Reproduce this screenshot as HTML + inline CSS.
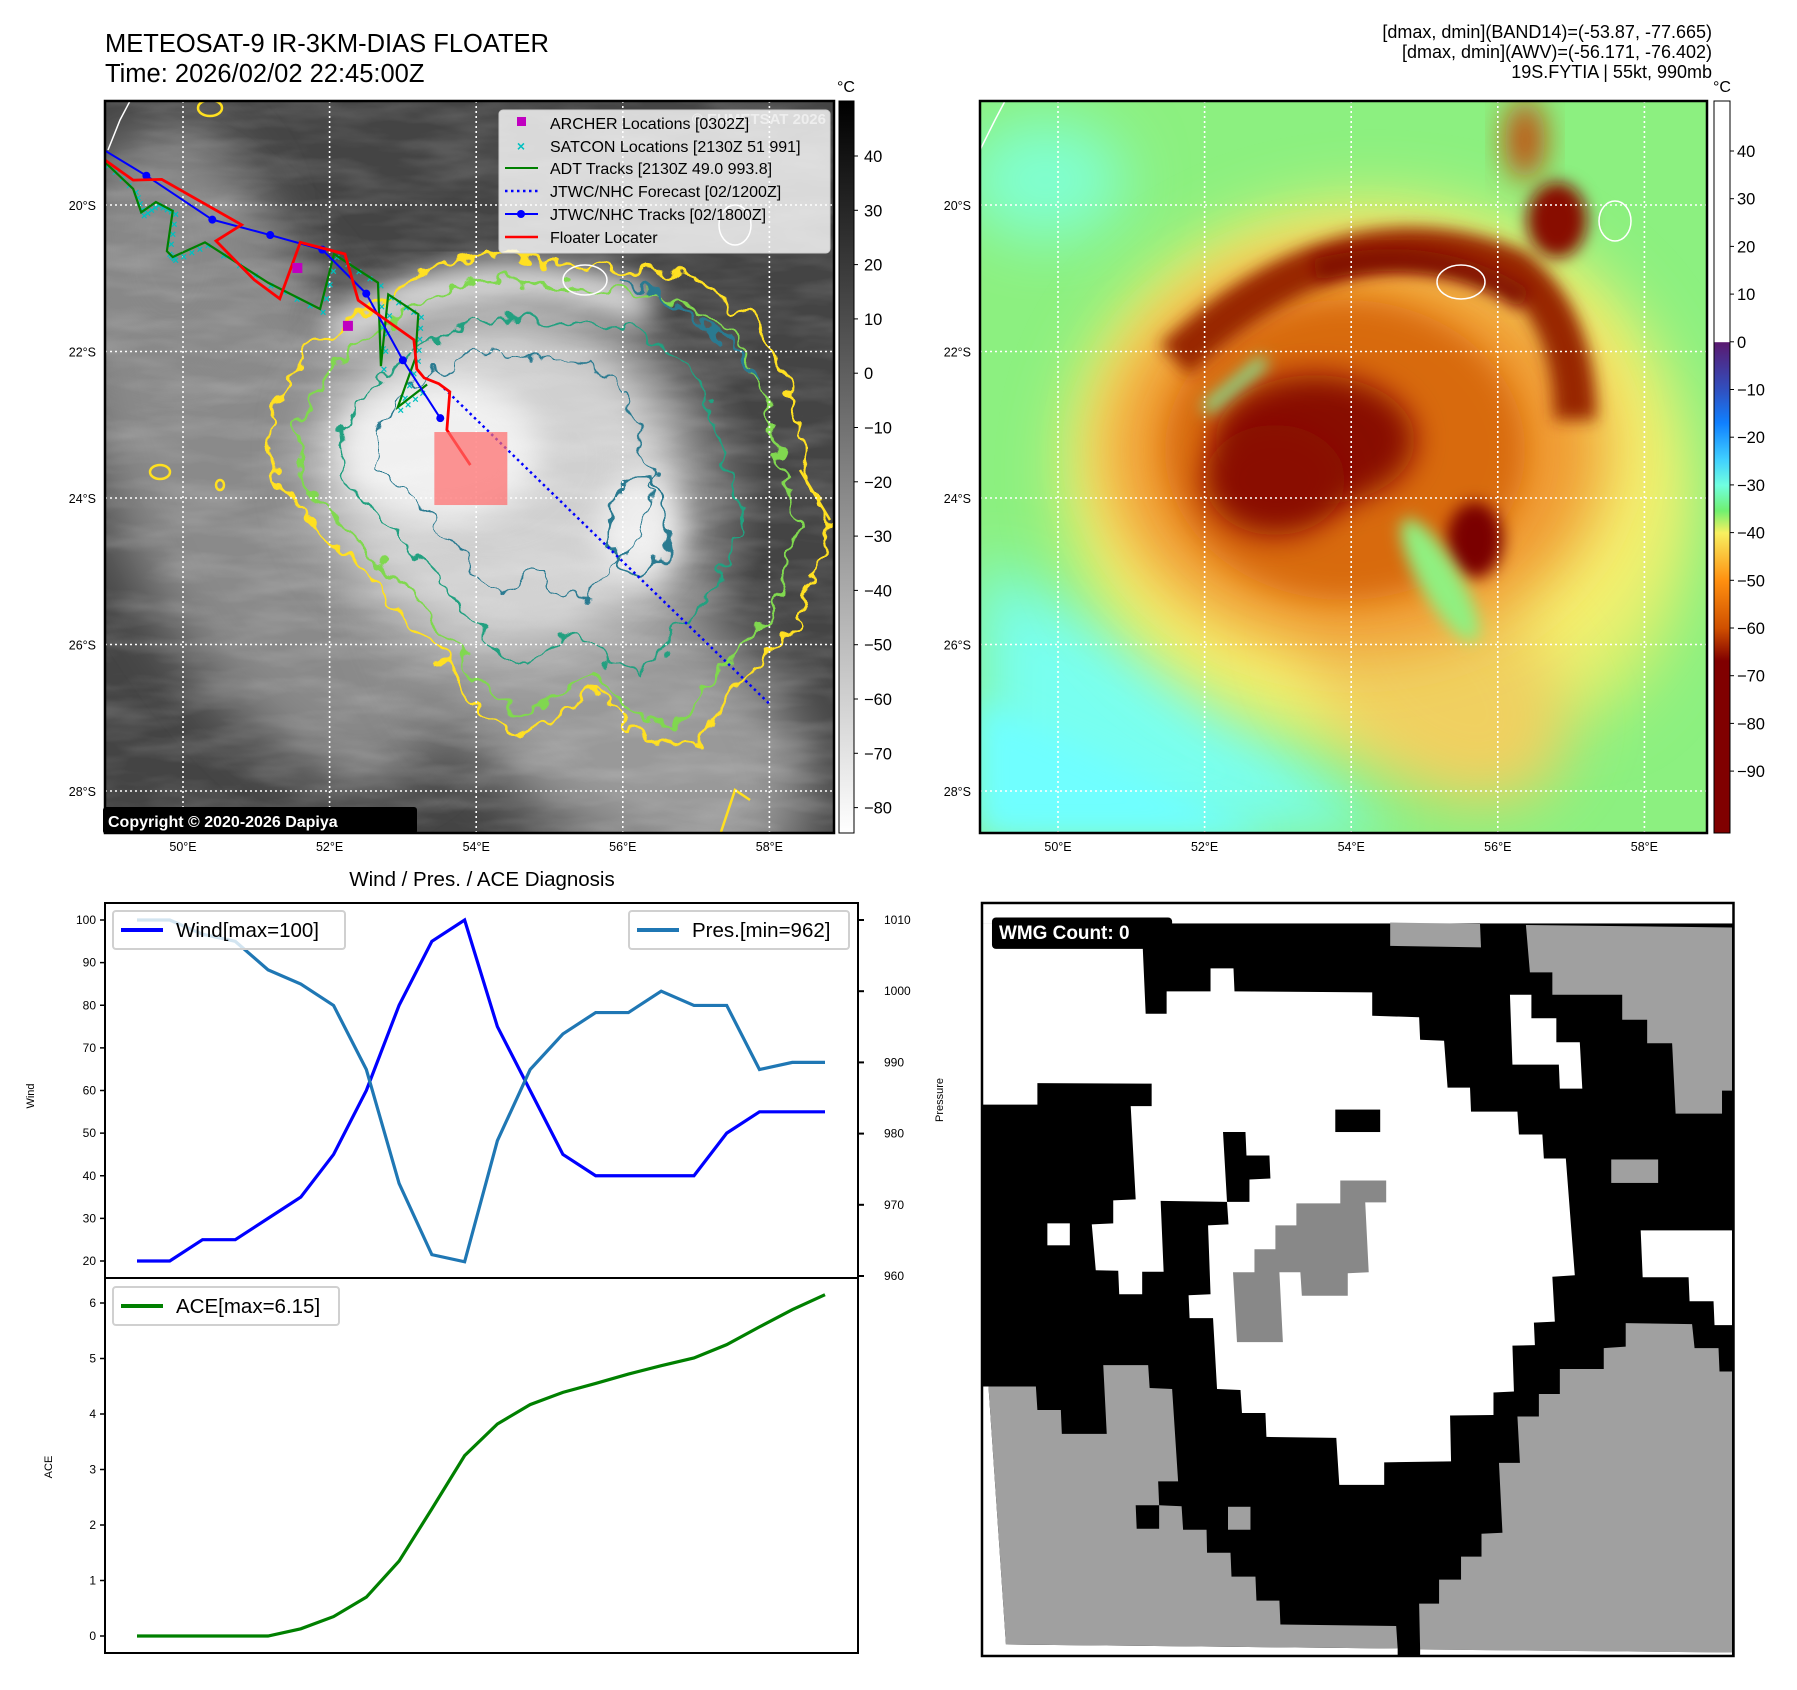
<!DOCTYPE html>
<html><head><meta charset="utf-8"><style>
html,body{margin:0;padding:0;background:#fff;}
svg{display:block;font-family:"Liberation Sans","DejaVu Sans",sans-serif;}
</style></head><body>
<svg id="root" width="1797" height="1690" viewBox="0 0 1797 1690" xmlns="http://www.w3.org/2000/svg">
<defs>
  <clipPath id="clipL" clipPathUnits="userSpaceOnUse"><rect x="105" y="101" width="729" height="732"/></clipPath>
  <clipPath id="clipR" clipPathUnits="userSpaceOnUse"><rect x="980" y="101" width="727" height="732"/></clipPath>
  <filter id="b30" x="-50%" y="-50%" width="200%" height="200%"><feGaussianBlur stdDeviation="30"/></filter>
  <filter id="b15" x="-50%" y="-50%" width="200%" height="200%"><feGaussianBlur stdDeviation="15"/></filter>
  <filter id="b8" x="-50%" y="-50%" width="200%" height="200%"><feGaussianBlur stdDeviation="8"/></filter>
  <filter id="jag" x="-10%" y="-10%" width="120%" height="120%">
    <feTurbulence type="fractalNoise" baseFrequency="0.05" numOctaves="2" seed="3" result="n"/>
    <feDisplacementMap in="SourceGraphic" in2="n" scale="30" xChannelSelector="R" yChannelSelector="G"/>
  </filter>
  <filter id="tex" x="0" y="0" width="100%" height="100%">
    <feTurbulence type="fractalNoise" baseFrequency="0.012 0.05" numOctaves="3" seed="7"/>
    <feColorMatrix type="matrix" values="0 0 0 0 1  0 0 0 0 1  0 0 0 0 1  1.2 0 0 0 -0.45"/>
  </filter>
  <linearGradient id="cbL" x1="0" y1="0" x2="0" y2="1">
    <stop offset="0" stop-color="#000"/><stop offset="1" stop-color="#fff"/>
  </linearGradient>
  <linearGradient id="cbR" x1="0" y1="0" x2="0" y2="1">
    <stop offset="0" stop-color="#fff"/><stop offset="0.329" stop-color="#fff"/>
    <stop offset="0.33" stop-color="#5a1a70"/><stop offset="0.395" stop-color="#3050c0"/>
    <stop offset="0.44" stop-color="#1080ff"/><stop offset="0.49" stop-color="#40d0ff"/>
    <stop offset="0.525" stop-color="#70ffe0"/><stop offset="0.56" stop-color="#70f070"/>
    <stop offset="0.59" stop-color="#f8f060"/><stop offset="0.655" stop-color="#ff9010"/>
    <stop offset="0.72" stop-color="#d05000"/><stop offset="0.765" stop-color="#800000"/>
    <stop offset="1" stop-color="#800000"/>
  </linearGradient>
  <radialGradient id="cloudG" cx="0.5" cy="0.5" r="0.5">
    <stop offset="0" stop-color="#f2f2f2"/><stop offset="0.5" stop-color="#d0d0d0"/><stop offset="1" stop-color="#909090" stop-opacity="0"/>
  </radialGradient>
  <path id="yc" d="M484,253 L560,262 L691,276 L760,323 L790,390 L806,461 L829,530 L795,628 L737,691 L691,749 L645,737 L599,691 L518,737 L484,714 L449,668 L403,610 L334,541 L276,484 L271,415 L311,346 L380,300 L438,265 Z"/>
</defs>

<!-- Titles -->
<text x="105" y="52" font-size="25.5" fill="#000">METEOSAT-9 IR-3KM-DIAS FLOATER</text>
<text x="105" y="82" font-size="25.5" fill="#000">Time: 2026/02/02 22:45:00Z</text>
<g font-size="18" text-anchor="end" fill="#000">
  <text x="1712" y="38">[dmax, dmin](BAND14)=(-53.87, -77.665)</text>
  <text x="1712" y="58">[dmax, dmin](AWV)=(-56.171, -76.402)</text>
  <text x="1712" y="78">19S.FYTIA | 55kt, 990mb</text>
</g>

<!-- LEFT IR MAP -->
<g clip-path="url(#clipL)">
  <rect x="105" y="101" width="729" height="732" fill="#444"/>
  <ellipse cx="260" cy="480" rx="150" ry="330" fill="#8a8a8a" filter="url(#b30)" transform="rotate(-25 260 480)"/>
  <ellipse cx="600" cy="690" rx="250" ry="130" fill="#999" filter="url(#b30)" transform="rotate(40 600 690)"/>
  <ellipse cx="170" cy="250" rx="90" ry="120" fill="#888" filter="url(#b30)"/>
  <ellipse cx="520" cy="500" rx="250" ry="230" fill="url(#cloudG)"/>
  <ellipse cx="490" cy="460" rx="170" ry="150" fill="#d0d0d0" filter="url(#b30)"/>
  <ellipse cx="440" cy="450" rx="100" ry="70" fill="#f0f0f0" filter="url(#b15)"/>
  <ellipse cx="640" cy="530" rx="40" ry="55" fill="#eeeeee" filter="url(#b15)"/>
  <path d="M330,340 Q480,240 650,310" stroke="#dcdcdc" stroke-width="40" fill="none" filter="url(#b15)"/>
  <rect x="105" y="101" width="729" height="732" filter="url(#tex)" opacity="0.25"/>
  <g fill="none" stroke-width="3.2" filter="url(#jag)">
    <use href="#yc" stroke="#ffe020"/>
    <use href="#yc" stroke="#80d850" transform="translate(540 500) scale(0.9) translate(-540 -500)"/>
    <use href="#yc" stroke="#20a080" transform="translate(520 480) scale(0.72) translate(-520 -480)"/>
    <use href="#yc" stroke="#2a7a90" transform="translate(480 450) scale(0.5) translate(-480 -450)"/>
    <ellipse cx="640" cy="525" rx="30" ry="50" stroke="#2a7a90"/>
    <path d="M620,280 Q720,320 760,380" stroke="#2a7a90"/>
  </g>
  <g fill="none" stroke="#ffe020" stroke-width="2.5">
    <ellipse cx="160" cy="472" rx="10" ry="7"/><ellipse cx="220" cy="485" rx="4" ry="5"/>
    <ellipse cx="210" cy="108" rx="12" ry="8"/><path d="M800,470 L830,520"/>
    <path d="M720,835 L735,790 L750,800"/>
  </g>
  <g fill="none" stroke="#fff" stroke-width="1.5">
    <path d="M130,101 L120,120 L108,150"/>
    <ellipse cx="585" cy="280" rx="22" ry="15"/>
    <ellipse cx="735" cy="225" rx="16" ry="20"/>
  </g>
  <g id="gridL"></g>
  <g id="tracks"></g>
</g>
<rect x="105" y="101" width="729" height="732" fill="none" stroke="#000" stroke-width="2.5"/>

<!-- legend -->
<g>
  <rect x="499" y="110" width="331" height="143" rx="4" fill="#fff" fill-opacity="0.8" stroke="#ccc"/>
  <text x="826" y="124" text-anchor="end" font-size="15" font-weight="bold" fill="#eee">© EUMETSAT 2026</text>
  <g font-size="16" fill="#000">
    <rect x="517" y="117" width="9" height="9" fill="#c000c0"/><text x="550" y="129">ARCHER Locations [0302Z]</text>
    <text x="521" y="151" font-size="14" font-weight="bold" fill="#00c0c0" text-anchor="middle">×</text><text x="550" y="152">SATCON Locations [2130Z 51 991]</text>
    <line x1="505" y1="168" x2="538" y2="168" stroke="#008000" stroke-width="2"/><text x="550" y="174">ADT Tracks [2130Z 49.0 993.8]</text>
    <line x1="505" y1="191" x2="538" y2="191" stroke="#0000ff" stroke-width="2.5" stroke-dasharray="2.5,3.5"/><text x="550" y="197">JTWC/NHC Forecast [02/1200Z]</text>
    <line x1="505" y1="214" x2="538" y2="214" stroke="#0000ff" stroke-width="2"/><circle cx="521" cy="214" r="4" fill="#0000ff"/><text x="550" y="220">JTWC/NHC Tracks [02/1800Z]</text>
    <line x1="505" y1="237" x2="538" y2="237" stroke="#ff0000" stroke-width="2.5"/><text x="550" y="243">Floater Locater</text>
  </g>
</g>
<g>
  <rect x="103" y="807" width="314" height="27" rx="3" fill="#000"/>
  <text x="108" y="827" font-size="16" font-weight="bold" fill="#fff">Copyright © 2020-2026 Dapiya</text>
</g>
<g id="axesL" font-size="12.5" fill="#000"></g>

<!-- Left colorbar -->
<g>
  <rect x="839" y="101" width="15" height="732" fill="url(#cbL)" stroke="#000" stroke-width="1"/>
  <text x="846" y="92" font-size="16" text-anchor="middle">°C</text>
  <g id="cbLticks" font-size="16.5"></g>
</g>

<!-- RIGHT IR MAP -->
<g clip-path="url(#clipR)">
  <rect x="980" y="101" width="727" height="732" fill="#8cf080"/>
  <g transform="translate(875 0)">
    <ellipse cx="170" cy="180" rx="80" ry="60" fill="#80ffd0" filter="url(#b30)"/>
    <polygon points="105,560 300,660 520,834 105,834" fill="#78fff0" filter="url(#b30)"/>
    <polygon points="105,700 400,834 105,834" fill="#70ffff" filter="url(#b15)"/>
    <ellipse cx="700" cy="560" rx="110" ry="160" fill="#c8f070" filter="url(#b30)"/>
    <ellipse cx="500" cy="470" rx="310" ry="270" fill="#f4f070" filter="url(#b30)"/>
    <ellipse cx="560" cy="680" rx="150" ry="100" fill="#f0d060" filter="url(#b30)" transform="rotate(40 560 680)"/>
    <ellipse cx="480" cy="450" rx="250" ry="200" fill="#f09a30" filter="url(#b30)"/>
    <ellipse cx="470" cy="450" rx="180" ry="150" fill="#d86a10" filter="url(#b15)"/>
    <path d="M300,360 Q470,200 640,270 Q700,320 700,420" stroke="#982800" stroke-width="42" fill="none" filter="url(#b8)"/>
    <path d="M440,270 Q560,240 650,300" stroke="#800800" stroke-width="22" fill="none" filter="url(#b8)"/>
    <ellipse cx="440" cy="440" rx="100" ry="65" fill="#880800" filter="url(#b15)"/>
    <ellipse cx="400" cy="480" rx="70" ry="55" fill="#8a1000" filter="url(#b15)"/>
    <path d="M390,360 L330,410" stroke="#80f0a0" stroke-width="12" filter="url(#b8)"/>
    <ellipse cx="600" cy="540" rx="28" ry="38" fill="#7a0000" filter="url(#b8)"/>
    <ellipse cx="682" cy="220" rx="30" ry="38" fill="#880800" filter="url(#b8)"/>
    <ellipse cx="650" cy="140" rx="20" ry="40" fill="#c05010" filter="url(#b15)"/>
    <ellipse cx="565" cy="580" rx="20" ry="70" fill="#90f080" filter="url(#b8)" transform="rotate(-30 565 580)"/>
    <g fill="none" stroke="#fff" stroke-width="1.5">
      <path d="M130,101 L120,120 L105,150"/>
      <ellipse cx="586" cy="282" rx="24" ry="17"/>
      <ellipse cx="740" cy="221" rx="16" ry="20"/>
    </g>
  </g>
  <g id="gridR"></g>
</g>
<rect x="980" y="101" width="727" height="732" fill="none" stroke="#000" stroke-width="2.5"/>
<g id="axesR" font-size="12.5" fill="#000"></g>
<g>
  <rect x="1714" y="101" width="16" height="732" fill="url(#cbR)" stroke="#000" stroke-width="1"/>
  <text x="1722" y="92" font-size="16" text-anchor="middle">°C</text>
  <g id="cbRticks" font-size="16.5"></g>
</g>

<!-- DIAGNOSIS CHART -->
<text x="482" y="886" font-size="20.5" text-anchor="middle">Wind / Pres. / ACE Diagnosis</text>
<g id="chart"></g>

<!-- WMG PANEL -->
<g transform="translate(981 900) scale(0.499)">
  <rect x="2" y="6" width="1506" height="1509" fill="#000"/>
  <rect x="2" y="6" width="1506" height="41" fill="#fff"/>
  <polygon fill="#fff" points="2,47 322,47 330,228 372,228 372,183 460,183 460,137 506,137 508,183 784,185 784,232 878,235 880,280 928,282 935,376 980,376 982,424 1075,424 1078,470 1125,470 1128,518 1172,518 1190,752 1145,755 1150,845 1108,847 1110,892 1065,893 1068,985 1027,987 1027,1032 940,1033 942,1125 808,1127 808,1172 718,1172 712,1078 572,1076 570,1028 523,1028 520,982 473,980 465,838 418,838 416,792 460,790 455,652 496,650 493,605 538,605 538,560 580,558 578,512 532,512 530,465 485,465 493,605 360,603 366,745 323,745 323,790 277,790 275,743 230,742 222,650 265,648 265,602 310,600 300,413 342,413 342,368 113,367 113,410 2,410"/>
  <rect x="133" y="648" width="45" height="44" fill="#fff"/>
  <polygon fill="#fff" points="1060,190 1103,190 1103,237 1153,237 1153,285 1200,285 1205,378 1160,378 1158,330 1065,330"/>
  <polygon fill="#fff" points="1322,662 1505,662 1505,852 1470,852 1468,804 1420,804 1418,756 1326,756"/>
  <rect x="710" y="420" width="90" height="45" fill="#000"/>
  <rect x="1263" y="520" width="94" height="47" fill="#a0a0a0"/>
  <polygon fill="#a0a0a0" points="820,45 1000,48 1002,95 820,92"/>
  <polygon fill="#a0a0a0" points="1092,50 1505,55 1505,382 1485,382 1485,428 1392,428 1385,287 1335,287 1335,240 1285,240 1285,190 1145,190 1145,145 1100,145"/>
  <polygon fill="#888" points="720,562 812,562 812,606 770,606 777,746 735,748 735,793 643,793 640,746 598,746 605,886 513,886 505,746 548,746 548,700 590,700 590,652 632,652 632,608 720,608"/>
  <polygon fill="#fff" points="2,975 15,975 50,1492 835,1500 835,1515 2,1515"/>
  <polygon fill="#a0a0a0" points="15,975 110,975 113,1022 160,1022 162,1070 252,1070 245,932 335,932 338,978 383,980 395,1165 355,1165 357,1213 310,1213 312,1260 357,1260 357,1213 402,1215 405,1262 452,1262 453,1308 500,1308 502,1356 550,1356 552,1404 598,1404 600,1452 832,1455 835,1500 50,1492"/>
  <rect x="495" y="1216" width="45" height="46" fill="#a0a0a0"/>
  <polygon fill="#a0a0a0" points="878,1410 918,1410 918,1362 962,1362 962,1316 1003,1316 1003,1270 1045,1268 1038,1128 1080,1128 1075,1035 1118,1035 1118,990 1160,990 1160,940 1248,940 1248,898 1292,895 1292,848 1425,850 1430,898 1478,898 1480,945 1505,945 1505,1508 880,1502"/>
  <polygon fill="#fff" points="880,1502 1505,1508 1505,1515 880,1515"/>
  <rect x="2" y="6" width="1506" height="1509" fill="none" stroke="#000" stroke-width="5"/>
  <rect x="22" y="35" width="361" height="63" rx="8" fill="#000"/>
  <text x="36" y="78" font-size="38" font-weight="bold" fill="#fff">WMG Count: 0</text>
</g>
</svg>

<script>
// ===== Chart data =====
const windVals = [20,20,25,25,30,35,45,60,80,95,100,75,60,45,40,40,40,40,50,55,55,55];
const presVals = [1010,1010,1008,1007,1003,1001,998,989,973,963,962,979,989,994,997,997,1000,998,998,989,990,990];
const aceVals = [0,0,0,0,0,0.13,0.35,0.7,1.35,2.29,3.25,3.82,4.17,4.39,4.55,4.72,4.87,5.01,5.25,5.57,5.88,6.15];
const windTicks = [100,90,80,70,60,50,40,30,20];
const presTicks = [1010,1000,990,980,970,960];
const aceTicks = [0,1,2,3,4,5,6];
// ===== Map data (lon E, lat S) =====
const lonTicks = [50,52,54,56,58];
const latTicks = [20,22,24,26,28];
const jtwcLon = [48.94,49.50,50.40,51.19,51.90,52.50,53.00,53.51];
const jtwcLat = [19.26,19.60,20.20,20.41,20.61,21.21,22.12,22.91];
const fcstLon = [53.56,58.0];
const fcstLat = [22.50,26.81];
const floaterLon = [48.94,49.32,49.71,50.80,50.45,50.97,51.32,51.60,52.21,52.39,53.15,53.19,53.29,53.49,53.64,53.60,53.92];
const floaterLat = [19.39,19.66,19.65,20.27,20.49,21.02,21.28,20.51,20.67,21.30,21.84,22.24,22.36,22.44,22.55,23.07,23.55];
const adtLon = [48.94,49.32,49.43,49.63,49.86,49.78,49.86,50.30,51.16,51.87,52.06,52.66,52.70,52.80,53.21,53.17,52.93,53.33];
const adtLat = [19.42,19.78,20.10,19.96,20.08,20.63,20.71,20.51,21.06,21.42,20.67,21.06,22.20,21.22,21.49,22.09,22.76,22.45];
const archerLon = [51.56,52.25];
const archerLat = [20.86,21.65];
const cbLTicks = [40,30,20,10,0,-10,-20,-30,-40,-50,-60,-70,-80];
const cbRTicks = [40,30,20,10,0,-10,-20,-30,-40,-50,-60,-70,-80,-90];

const NS = 'http://www.w3.org/2000/svg';
function mk(tag, attrs, parent){ const e=document.createElementNS(NS,tag); for(const k in attrs) e.setAttribute(k,attrs[k]); parent.appendChild(e); return e; }
function fmt(v){ return v<0 ? '\u2212'+Math.abs(v) : ''+v; }

const lonX = lon => 183 + (lon-50)*73.3;
const latY = lat => 205 + (lat-20)*73.25;
const DX = 875;

['gridL','gridR'].forEach((gid,k)=>{
  const g=document.getElementById(gid); const off=k?DX:0;
  lonTicks.forEach(l=>{
    const ln=mk('line',{x1:lonX(l)+off,y1:101,x2:lonX(l)+off,y2:833,stroke:'#fff','stroke-width':1.6,'stroke-dasharray':'2,3'},g);
    
    
  });
  latTicks.forEach(l=>{
    const ln=mk('line',{x1:105+off,y1:latY(l),x2:834+off,y2:latY(l),stroke:'#fff','stroke-width':1.6,'stroke-dasharray':'2,3'},g);
    
    
  });
});
['axesL','axesR'].forEach((gid,k)=>{
  const g=document.getElementById(gid); const off=k?DX:0;
  lonTicks.forEach(l=>{
    const t=mk('text',{x:lonX(l)+off,y:851,'text-anchor':'middle'},g); t.textContent=l+'°E';
    
    
  });
  latTicks.forEach(l=>{
    const t=mk('text',{x:96+off,y:latY(l)+5,'text-anchor':'end'},g); t.textContent=l+'°S';
    
    
  });
});
(function(){
  const gL=document.getElementById('cbLticks');
  cbLTicks.forEach(v=>{ const y=156+(40-v)*5.43;
    mk('line',{x1:854,y1:y,x2:858,y2:y,stroke:'#000'},gL);
    const t=mk('text',{x:864,y:y+6},gL); t.textContent=fmt(v);
    
    
  });
  const gR=document.getElementById('cbRticks');
  cbRTicks.forEach(v=>{ const y=151+(40-v)*4.77;
    mk('line',{x1:1730,y1:y,x2:1734,y2:y,stroke:'#000'},gR);
    const t=mk('text',{x:1737,y:y+6},gR); t.textContent=fmt(v);
    
    
  });
})();

(function(){
  const g=document.getElementById('tracks');
  const pts=(lo,la)=>lo.map((v,i)=>lonX(v)+','+latY(la[i])).join(' ');
  for(let i=0;i<adtLon.length-1;i++){
    for(let s=0;s<4;s++){
      const f=s/4; const x=lonX(adtLon[i]+(adtLon[i+1]-adtLon[i])*f)+3, y=latY(adtLat[i]+(adtLat[i+1]-adtLat[i])*f)+3;
      const c=mk('text',{x:x,y:y+4,'font-size':11,'font-weight':'bold',fill:'#00c0c0','text-anchor':'middle'},g); c.textContent='×';
      
      
    }
  }
  const adt=mk('polyline',{points:pts(adtLon,adtLat),fill:'none',stroke:'#008000','stroke-width':2.2},g);
  
  
  const fc=mk('polyline',{points:pts(fcstLon,fcstLat),fill:'none',stroke:'#0000ff','stroke-width':2.5,'stroke-dasharray':'2.5,3.5'},g);
  
  
  const jt=mk('polyline',{points:pts(jtwcLon,jtwcLat),fill:'none',stroke:'#0000ff','stroke-width':2},g);
  
  
  jtwcLon.forEach((v,i)=>{ if(i===0) return; const c=mk('circle',{cx:lonX(v),cy:latY(jtwcLat[i]),r:4,fill:'#0000ff'},g);
    
    
  });
  const fl=mk('polyline',{points:pts(floaterLon,floaterLat),fill:'none',stroke:'#ff0000','stroke-width':2.8},g);
  
  
  const n=floaterLon.length-1;
  const bx=mk('rect',{x:lonX(floaterLon[n])-36,y:latY(floaterLat[n])-33,width:73,height:73,fill:'#ff6a6a','fill-opacity':0.7},g);
  
  
  archerLon.forEach((v,i)=>{ const r=mk('rect',{x:lonX(v)-5,y:latY(archerLat[i])-5,width:10,height:10,fill:'#c000c0'},g);
    
    
  });
})();

(function(){
  const g=document.getElementById('chart');
  const X0=105,X1=858,T=903,MID=1278,B=1653;
  const xi=i=>137+i*(825-137)/(windVals.length-1);
  const yW=v=>920+(100-v)*4.2625;
  const yP=v=>920+(1010-v)*7.12;
  const yA=v=>1636-v*55.5;
  const wl=mk('polyline',{points:windVals.map((v,i)=>xi(i)+','+yW(v)).join(' '),fill:'none',stroke:'#0000ff','stroke-width':3.2},g);
  
  
  const pl=mk('polyline',{points:presVals.map((v,i)=>xi(i)+','+yP(v)).join(' '),fill:'none',stroke:'#1f77b4','stroke-width':3.2},g);
  
  
  const al=mk('polyline',{points:aceVals.map((v,i)=>xi(i)+','+yA(v)).join(' '),fill:'none',stroke:'#008000','stroke-width':3.2},g);
  
  
  const fr1=mk('rect',{x:X0,y:T,width:X1-X0,height:MID-T,fill:'none',stroke:'#000','stroke-width':2},g);
  
  
  const fr2=mk('rect',{x:X0,y:MID,width:X1-X0,height:B-MID,fill:'none',stroke:'#000','stroke-width':2},g);
  
  
  windTicks.forEach(v=>{ const y=yW(v); mk('line',{x1:X0-5,y1:y,x2:X0,y2:y,stroke:'#000','stroke-width':1.5},g);
    const t=mk('text',{x:X0-9,y:y+4,'font-size':12,'text-anchor':'end'},g); t.textContent=v;
    
    
  });
  presTicks.forEach(v=>{ const y=yP(v); mk('line',{x1:X1,y1:y,x2:X1+6,y2:y,stroke:'#000','stroke-width':2},g);
    const t=mk('text',{x:X1+26,y:y+4,'font-size':12},g); t.textContent=v;
    
    
  });
  aceTicks.forEach(v=>{ const y=yA(v); mk('line',{x1:X0-5,y1:y,x2:X0,y2:y,stroke:'#000','stroke-width':1.5},g);
    const t=mk('text',{x:X0-9,y:y+4,'font-size':12,'text-anchor':'end'},g); t.textContent=v;
    
    
  });
  const yl1=mk('text',{x:0,y:0,'font-size':11,'text-anchor':'middle',transform:'translate(34 1096) rotate(-90)'},g); yl1.textContent='Wind';
  
  
  const yl2=mk('text',{x:0,y:0,'font-size':11,'text-anchor':'middle',transform:'translate(943 1100) rotate(-90)'},g); yl2.textContent='Pressure';
  
  
  const yl3=mk('text',{x:0,y:0,'font-size':11,'text-anchor':'middle',transform:'translate(52 1467) rotate(-90)'},g); yl3.textContent='ACE';
  
  
  function legend(x,y,w,color,label,name){
    const lg=mk('g',{},g);
    
    
    mk('rect',{x:x,y:y,width:w,height:38,rx:3,fill:'#fff','fill-opacity':0.8,stroke:'#d0d0d0','stroke-width':2},lg);
    mk('line',{x1:x+8,y1:y+19,x2:x+50,y2:y+19,stroke:color,'stroke-width':4},lg);
    const t=mk('text',{x:x+63,y:y+26,'font-size':20.5},lg); t.textContent=label;
  }
  legend(113,911,232,'#0000ff','Wind[max=100]','wind-legend');
  legend(629,911,220,'#1f77b4','Pres.[min=962]','pressure-legend');
  legend(113,1287,226,'#008000','ACE[max=6.15]','ace-legend');
})();
</script>
</body></html>
